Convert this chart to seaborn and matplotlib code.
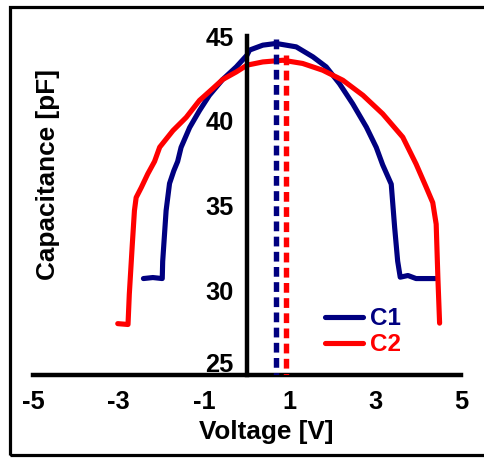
import numpy as np
import pandas as pd
import seaborn as sns
import matplotlib.pyplot as plt
import matplotlib.transforms as mtrans
from matplotlib.patches import Rectangle

# ---- data ----
c1_v = [-2.42, -2.2, -1.98, -1.97, -1.89, -1.81, -1.71, -1.62, -1.54, -1.34, -1.11,
        -0.88, -0.57, -0.25, 0.0, 0.06, 0.37, 0.68, 1.15, 1.54, 1.85, 2.16, 2.47, 2.79,
        3.02, 3.17, 3.37, 3.45, 3.52, 3.58, 3.76, 3.95, 4.4]
c1_c = [30.69, 30.75, 30.69, 31.7, 34.7, 36.3, 37.05, 37.6, 38.43, 39.6, 40.6,
        41.5, 42.43, 43.18, 43.87, 44.17, 44.46, 44.56, 44.36, 43.77, 43.18, 42.19, 41.0, 39.62,
        38.43, 37.4, 36.26, 33.7, 31.72, 30.77, 30.87, 30.69, 30.69]

c2_v = [-3.02, -2.78, -2.75, -2.68, -2.63, -2.59, -2.47, -2.32, -2.16, -2.04, -1.73,
        -1.42, -1.11, -0.8, -0.57, -0.25, 0.0, 0.37, 0.84, 1.3, 1.77, 2.24, 2.71, 3.17,
        3.64, 3.95, 4.19, 4.34, 4.42, 4.46, 4.5]
c2_c = [28.03, 27.98, 29.76, 32.7, 34.7, 35.47, 36.06, 36.86, 37.6, 38.44, 39.42,
        40.2, 41.2, 41.9, 42.43, 42.88, 43.28, 43.47, 43.57, 43.38, 42.98, 42.39, 41.5, 40.41,
        39.03, 37.45, 36.06, 35.17, 33.9, 30.73, 28.06]

series = ["C1", "C2"]
peak_v = [0.68, 0.90]
peak_c = [44.8, 43.87]

x_ticks = [-5, -3, -1, 1, 3, 5]
y_ticks = [25, 30, 35, 40, 45]

navy = "#000080"
red = "#FF0000"
palette = {"C1": navy, "C2": red}

sns.set_style("white")
plt.rcParams["font.family"] = ["Liberation Sans", "DejaVu Sans"]
plt.rcParams["font.weight"] = "bold"
for key in ["text.color", "axes.labelcolor", "xtick.color", "ytick.color", "axes.edgecolor"]:
    plt.rcParams[key] = "black"

df = pd.concat([
    pd.DataFrame({"Voltage": c1_v, "Capacitance": c1_c, "Series": "C1"}),
    pd.DataFrame({"Voltage": c2_v, "Capacitance": c2_c, "Series": "C2"}),
], ignore_index=True)

fig = plt.figure(figsize=(4.84, 4.59), dpi=100)
ax = fig.add_axes([33 / 484, (459 - 375) / 459, 428 / 484, 339 / 459])

sns.lineplot(data=df, x="Voltage", y="Capacitance", hue="Series", palette=palette,
             sort=False, estimator=None, lw=3.7, ax=ax)

for s, v, c in zip(series, peak_v, peak_c):
    ax.plot([v, v], [c, 25], color=palette[s], lw=3.9,
            linestyle=(0, (1.8, 1.0)), zorder=4)

ax.set_xlim(-5, 5)
ax.set_ylim(25, 45)
ax.set_xticks(x_ticks)
ax.set_yticks(y_ticks)
ax.set_xticklabels([str(t) for t in x_ticks])
ax.set_yticklabels([str(t) for t in y_ticks])

for side in ["top", "right"]:
    ax.spines[side].set_visible(False)
ax.spines["left"].set_position(("data", 0))
for side in ["left", "bottom"]:
    ax.spines[side].set_linewidth(3.2)
    ax.spines[side].set_color("black")

ax.tick_params(axis="x", direction="out", length=5, width=3.2, labelsize=18.3, pad=5.5,
               colors="black")
ax.tick_params(axis="y", direction="out", length=5, width=3.2, labelsize=18.3, pad=4.5,
               colors="black")
for lab in ax.get_xticklabels() + ax.get_yticklabels():
    lab.set_fontweight("bold")

ax.set_xlabel("Voltage [V]", fontsize=18.8, fontweight="bold", color="black")
ax.set_ylabel("Capacitance [pF]", fontsize=18.8, fontweight="bold", color="black")
ax.xaxis.set_label_coords((266 - 33) / 428, (375 - 432) / 339)
ax.yaxis.set_label_coords((48 - 33) / 428, (375 - 174) / 339)
ax.xaxis.label.set_va("center")
ax.yaxis.label.set_va("center")

# lift the lowest y label above the x axis
t0 = ax.yaxis.get_major_ticks()[0]
t0.label1.set_transform(t0.label1.get_transform() +
                        mtrans.ScaledTranslation(0, 13 / 100, fig.dpi_scale_trans))

handles, labels = ax.get_legend_handles_labels()
ax.legend(handles, labels, loc="center left", bbox_to_anchor=(0.682, 0.127),
          frameon=False, handlelength=1.55, handletextpad=0.32, labelspacing=0.12,
          borderpad=0, borderaxespad=0, labelcolor="linecolor",
          prop={"weight": "bold", "size": 17.5})

fig.add_artist(Rectangle((9.5 / 484, 4 / 459), 1.1, (459 - 6.5) / 459 - 4 / 459,
                         transform=fig.transFigure, fill=False, lw=2.3,
                         edgecolor="black", clip_on=False))

fig.savefig("out.png", dpi=100)
